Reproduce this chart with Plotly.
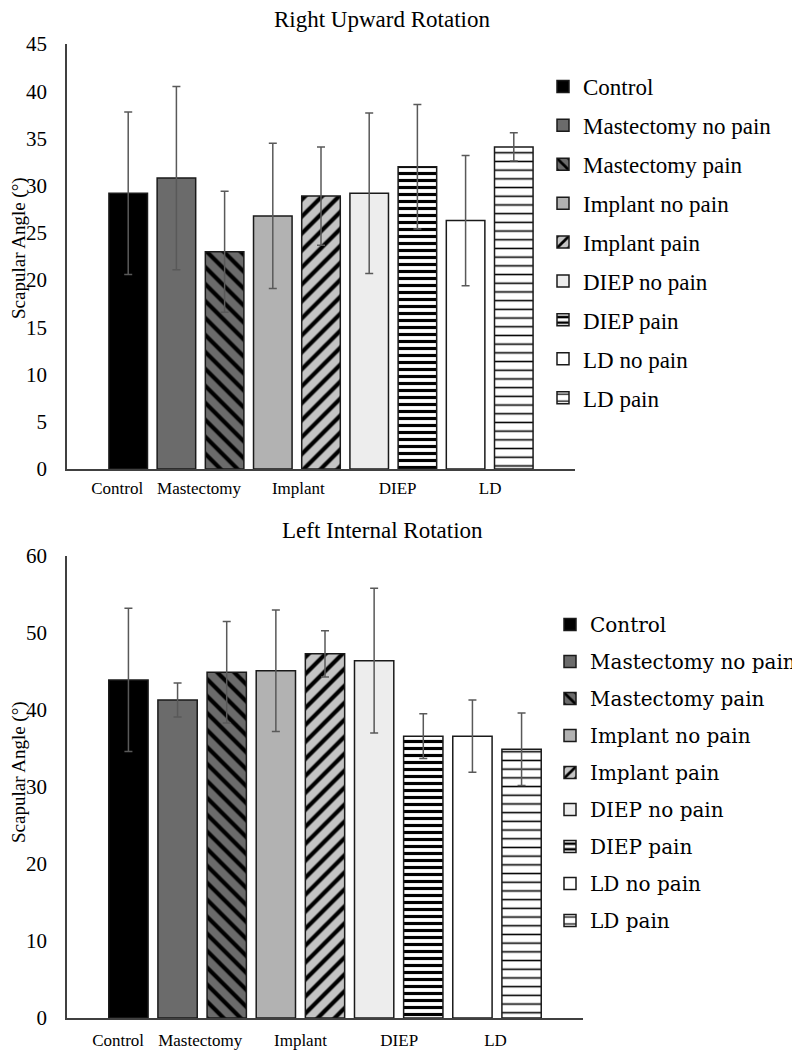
import plotly.graph_objects as go

# series (one bar each) in both panels
SERIES = ["Control", "Mastectomy no pain", "Mastectomy pain", "Implant no pain",
          "Implant pain", "DIEP no pain", "DIEP pain", "LD no pain", "LD pain"]

# Right upward rotation: means and SD
RUR_MEAN = [29.2, 30.8, 23.0, 26.8, 28.9, 29.2, 32.0, 26.3, 34.1]
RUR_SD = [8.6, 9.7, 6.4, 7.7, 5.2, 8.5, 6.6, 6.9, 1.5]

# Left internal rotation: means and SD
LIR_MEAN = [43.9, 41.3, 44.9, 45.1, 47.3, 46.4, 36.6, 36.6, 34.9]
LIR_SD = [9.3, 2.2, 6.6, 7.9, 3.0, 9.4, 2.9, 4.7, 4.7]

GROUP_LABELS = ["Control", "Mastectomy", "Implant", "DIEP", "LD"]

FONT = "Liberation Serif"

# fill style per series: (background, pattern shape, pattern size, solidity)
STYLES = [
    ("#000000", "", 8, 0.3),
    ("#6b6b6b", "", 8, 0.3),
    ("#6b6b6b", "\\", 12, 0.35),
    ("#b2b2b2", "", 8, 0.3),
    ("#c4c4c4", "/", 12, 0.35),
    ("#ededed", "", 8, 0.3),
    ("#ffffff", "-", 7, 0.45),
    ("#ffffff", "", 8, 0.3),
    ("#ffffff", "-", 8.7, 0.18),
]

# tick-label positions under the bars (in bar-index units)
LABEL_POS_TOP = [-0.23, 1.47, 3.53, 5.59, 7.51]
LABEL_POS_BOT = [-0.21, 1.46, 3.50, 5.51, 7.47]


def add_panel(fig, means, sds, xref, yref, legend):
    for i, name in enumerate(SERIES):
        bg, shape, size, sol = STYLES[i]
        fig.add_trace(go.Bar(
            x=[i], y=[means[i]], name=name, width=0.8,
            xaxis=xref, yaxis=yref, legend=legend, legendgroup=legend + name,
            marker=dict(color=bg, line=dict(color="#1a1a1a", width=1.5),
                        pattern=dict(shape=shape, fgcolor="#000000", bgcolor=bg,
                                     size=size, solidity=sol, fillmode="replace")),
            error_y=dict(type="data", array=[sds[i]], color="#595959",
                         thickness=1.5, width=4),
        ))


fig = go.Figure()
add_panel(fig, RUR_MEAN, RUR_SD, "x", "y", "legend")
add_panel(fig, LIR_MEAN, LIR_SD, "x2", "y2", "legend2")

axis_common = dict(showgrid=False, zeroline=False, showline=True, automargin=False,
                   linecolor="#404040", linewidth=1.5, fixedrange=True)

# the page body adds an 8px offset, so the figure is a bit smaller than the window
OFF = 8
W, H = 800 - OFF, 1056 - OFF


def px(x):
    return (x - OFF) / W


def py(y):
    return (H - (y - OFF)) / H


fig.update_layout(
    width=W, height=H,
    font=dict(family=FONT, color="#000000"),
    margin=dict(l=0, r=0, t=0, b=0, autoexpand=False),
    plot_bgcolor="white", paper_bgcolor="white",
    barmode="overlay",
    xaxis=dict(**axis_common, domain=[px(67), px(575)], range=[-1.27, 9.27],
               tickvals=LABEL_POS_TOP, ticktext=GROUP_LABELS, ticks="",
               ticklabelstandoff=3,
               tickfont=dict(family=FONT, size=17, color="#000000")),
    yaxis=dict(**axis_common, domain=[py(469), py(44)], range=[0, 45], dtick=5,
               ticks="outside", ticklen=0, ticklabelstandoff=14,
               tickfont=dict(family=FONT, size=21, color="#000000")),
    xaxis2=dict(**axis_common, domain=[px(67), px(583)], range=[-1.25, 9.25],
                anchor="y2", ticklabelstandoff=6,
                tickvals=LABEL_POS_BOT, ticktext=GROUP_LABELS, ticks="",
                tickfont=dict(family=FONT, size=17, color="#000000")),
    yaxis2=dict(**axis_common, domain=[py(1018), py(556)], range=[0, 60], dtick=10,
                anchor="x2", ticks="outside", ticklen=0, ticklabelstandoff=14,
                tickfont=dict(family=FONT, size=21, color="#000000")),
    legend=dict(font=dict(family="Times New Roman", size=23), traceorder="grouped",
                tracegroupgap=6, itemwidth=30,
                x=px(543), y=py(65), xanchor="left", yanchor="top"),
    legend2=dict(font=dict(family="DejaVu Serif", size=20), traceorder="grouped",
                 tracegroupgap=8, itemwidth=30,
                 x=px(550), y=py(605), xanchor="left", yanchor="top"),
    annotations=[
        dict(text="Right Upward Rotation", x=px(382), y=py(20), xref="paper", yref="paper",
             showarrow=False, xanchor="center", yanchor="middle",
             font=dict(family=FONT, size=23, color="#000000")),
        dict(text="Left Internal Rotation", x=px(382), y=py(530), xref="paper", yref="paper",
             showarrow=False, xanchor="center", yanchor="middle",
             font=dict(family=FONT, size=23, color="#000000")),
        dict(text="Scapular Angle (°)", x=px(19), y=py(248), xref="paper", yref="paper",
             showarrow=False, textangle=-90, xanchor="center", yanchor="middle",
             font=dict(family=FONT, size=19, color="#000000")),
        dict(text="Scapular Angle (°)", x=px(19), y=py(772), xref="paper", yref="paper",
             showarrow=False, textangle=-90, xanchor="center", yanchor="middle",
             font=dict(family=FONT, size=19, color="#000000")),
    ],
)

fig.write_html("out.html")
